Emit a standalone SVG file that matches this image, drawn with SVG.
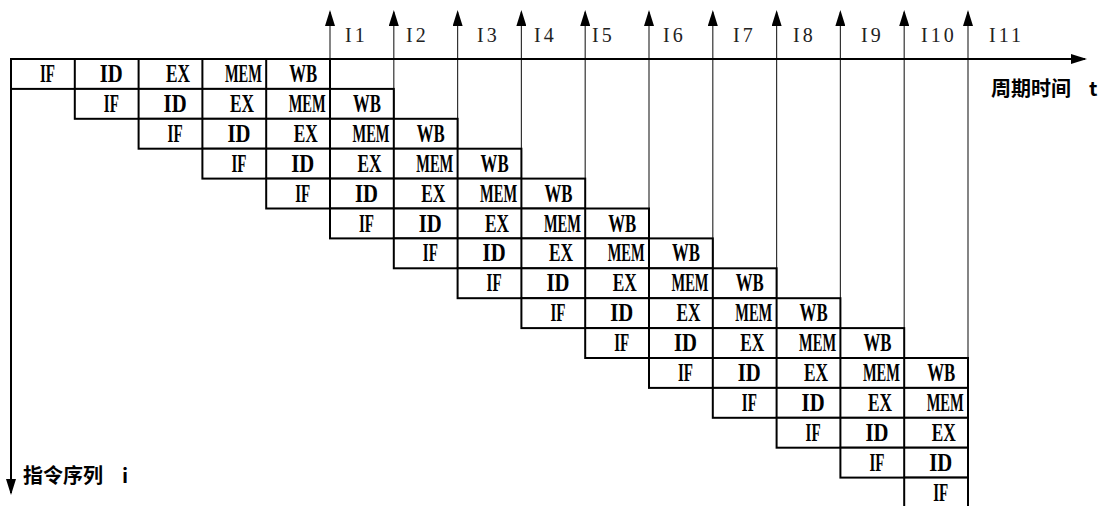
<svg xmlns="http://www.w3.org/2000/svg" width="1110" height="506" viewBox="0 0 1110 506">
<style>
.cell{fill:#fff;stroke:#000;stroke-width:2}
.div{stroke:#000;stroke-width:2;fill:none}
.st{font-family:"Liberation Serif","Times New Roman",serif;font-weight:bold;font-size:26px;fill:#000}
.ax{stroke:#000;stroke-width:2;fill:none}
.tick{stroke:#333;stroke-width:1.2;fill:none}
.lab{font-family:"Liberation Serif","Times New Roman",serif;font-size:20px;letter-spacing:3px;fill:#222}
.cap{font-family:"Noto Sans CJK SC","Noto Sans CJK JP",sans-serif;font-weight:bold;font-size:20px;fill:#000}
</style>
<defs>
<marker id="ah" markerUnits="userSpaceOnUse" markerWidth="16" markerHeight="10" refX="14" refY="5" orient="auto">
<path d="M0,0 L16,5 L0,10 Z" fill="#000"/>
</marker>
</defs>
<rect width="1110" height="506" fill="#fff"/>

<g id="connectors">
<line class="tick" x1="330" y1="88.9" x2="330" y2="12" marker-end="url(#ah)"/>
<line class="tick" x1="393.8" y1="118.8" x2="393.8" y2="12" marker-end="url(#ah)"/>
<line class="tick" x1="457.6" y1="148.7" x2="457.6" y2="12" marker-end="url(#ah)"/>
<line class="tick" x1="521.4" y1="178.6" x2="521.4" y2="12" marker-end="url(#ah)"/>
<line class="tick" x1="585.2" y1="208.5" x2="585.2" y2="12" marker-end="url(#ah)"/>
<line class="tick" x1="649" y1="238.4" x2="649" y2="12" marker-end="url(#ah)"/>
<line class="tick" x1="712.8" y1="268.3" x2="712.8" y2="12" marker-end="url(#ah)"/>
<line class="tick" x1="776.6" y1="298.2" x2="776.6" y2="12" marker-end="url(#ah)"/>
<line class="tick" x1="840.4" y1="328.1" x2="840.4" y2="12" marker-end="url(#ah)"/>
<line class="tick" x1="904.2" y1="358" x2="904.2" y2="12" marker-end="url(#ah)"/>
<line class="tick" x1="968" y1="387.9" x2="968" y2="12" marker-end="url(#ah)"/>
<line class="ax" x1="11" y1="59" x2="1085" y2="59" marker-end="url(#ah)"/>
<line class="ax" x1="11" y1="59" x2="11" y2="493" marker-end="url(#ah)"/>
</g>

<g id="labels">
<text class="lab" x="345" y="42">I1</text>
<text class="lab" x="406" y="42">I2</text>
<text class="lab" x="477" y="42">I3</text>
<text class="lab" x="534" y="42">I4</text>
<text class="lab" x="592" y="42">I5</text>
<text class="lab" x="663" y="42">I6</text>
<text class="lab" x="733" y="42">I7</text>
<text class="lab" x="793" y="42">I8</text>
<text class="lab" x="861" y="42">I9</text>
<text class="lab" x="921" y="42">I10</text>
<text class="lab" x="989" y="42">I11</text>
<text class="cap" x="991" y="96">周期时间 <tspan x="1089">t</tspan></text>
<text class="cap" x="23" y="483">指令序列 <tspan x="122">i</tspan></text>
</g>

<g id="row0" transform="translate(11,59)">
<rect class="cell" width="319" height="29.9"/>
<path class="div" d="M63.8,0V29.9M127.6,0V29.9M191.4,0V29.9M255.2,0V29.9"/>
<text class="st" x="29" y="23" textLength="15" lengthAdjust="spacingAndGlyphs">IF</text>
<text class="st" x="88.8" y="23" textLength="23" lengthAdjust="spacingAndGlyphs">ID</text>
<text class="st" x="155.1" y="23" textLength="24" lengthAdjust="spacingAndGlyphs">EX</text>
<text class="st" x="213.9" y="23" textLength="37" lengthAdjust="spacingAndGlyphs">MEM</text>
<text class="st" x="278.2" y="23" textLength="28" lengthAdjust="spacingAndGlyphs">WB</text>
</g>
<g id="row1" transform="translate(74.8,88.9)">
<rect class="cell" width="319" height="29.9"/>
<path class="div" d="M63.8,0V29.9M127.6,0V29.9M191.4,0V29.9M255.2,0V29.9"/>
<text class="st" x="29" y="23" textLength="15" lengthAdjust="spacingAndGlyphs">IF</text>
<text class="st" x="88.8" y="23" textLength="23" lengthAdjust="spacingAndGlyphs">ID</text>
<text class="st" x="155.1" y="23" textLength="24" lengthAdjust="spacingAndGlyphs">EX</text>
<text class="st" x="213.9" y="23" textLength="37" lengthAdjust="spacingAndGlyphs">MEM</text>
<text class="st" x="278.2" y="23" textLength="28" lengthAdjust="spacingAndGlyphs">WB</text>
</g>
<g id="row2" transform="translate(138.6,118.8)">
<rect class="cell" width="319" height="29.9"/>
<path class="div" d="M63.8,0V29.9M127.6,0V29.9M191.4,0V29.9M255.2,0V29.9"/>
<text class="st" x="29" y="23" textLength="15" lengthAdjust="spacingAndGlyphs">IF</text>
<text class="st" x="88.8" y="23" textLength="23" lengthAdjust="spacingAndGlyphs">ID</text>
<text class="st" x="155.1" y="23" textLength="24" lengthAdjust="spacingAndGlyphs">EX</text>
<text class="st" x="213.9" y="23" textLength="37" lengthAdjust="spacingAndGlyphs">MEM</text>
<text class="st" x="278.2" y="23" textLength="28" lengthAdjust="spacingAndGlyphs">WB</text>
</g>
<g id="row3" transform="translate(202.4,148.7)">
<rect class="cell" width="319" height="29.9"/>
<path class="div" d="M63.8,0V29.9M127.6,0V29.9M191.4,0V29.9M255.2,0V29.9"/>
<text class="st" x="29" y="23" textLength="15" lengthAdjust="spacingAndGlyphs">IF</text>
<text class="st" x="88.8" y="23" textLength="23" lengthAdjust="spacingAndGlyphs">ID</text>
<text class="st" x="155.1" y="23" textLength="24" lengthAdjust="spacingAndGlyphs">EX</text>
<text class="st" x="213.9" y="23" textLength="37" lengthAdjust="spacingAndGlyphs">MEM</text>
<text class="st" x="278.2" y="23" textLength="28" lengthAdjust="spacingAndGlyphs">WB</text>
</g>
<g id="row4" transform="translate(266.2,178.6)">
<rect class="cell" width="319" height="29.9"/>
<path class="div" d="M63.8,0V29.9M127.6,0V29.9M191.4,0V29.9M255.2,0V29.9"/>
<text class="st" x="29" y="23" textLength="15" lengthAdjust="spacingAndGlyphs">IF</text>
<text class="st" x="88.8" y="23" textLength="23" lengthAdjust="spacingAndGlyphs">ID</text>
<text class="st" x="155.1" y="23" textLength="24" lengthAdjust="spacingAndGlyphs">EX</text>
<text class="st" x="213.9" y="23" textLength="37" lengthAdjust="spacingAndGlyphs">MEM</text>
<text class="st" x="278.2" y="23" textLength="28" lengthAdjust="spacingAndGlyphs">WB</text>
</g>
<g id="row5" transform="translate(330,208.5)">
<rect class="cell" width="319" height="29.9"/>
<path class="div" d="M63.8,0V29.9M127.6,0V29.9M191.4,0V29.9M255.2,0V29.9"/>
<text class="st" x="29" y="23" textLength="15" lengthAdjust="spacingAndGlyphs">IF</text>
<text class="st" x="88.8" y="23" textLength="23" lengthAdjust="spacingAndGlyphs">ID</text>
<text class="st" x="155.1" y="23" textLength="24" lengthAdjust="spacingAndGlyphs">EX</text>
<text class="st" x="213.9" y="23" textLength="37" lengthAdjust="spacingAndGlyphs">MEM</text>
<text class="st" x="278.2" y="23" textLength="28" lengthAdjust="spacingAndGlyphs">WB</text>
</g>
<g id="row6" transform="translate(393.8,238.4)">
<rect class="cell" width="319" height="29.9"/>
<path class="div" d="M63.8,0V29.9M127.6,0V29.9M191.4,0V29.9M255.2,0V29.9"/>
<text class="st" x="29" y="23" textLength="15" lengthAdjust="spacingAndGlyphs">IF</text>
<text class="st" x="88.8" y="23" textLength="23" lengthAdjust="spacingAndGlyphs">ID</text>
<text class="st" x="155.1" y="23" textLength="24" lengthAdjust="spacingAndGlyphs">EX</text>
<text class="st" x="213.9" y="23" textLength="37" lengthAdjust="spacingAndGlyphs">MEM</text>
<text class="st" x="278.2" y="23" textLength="28" lengthAdjust="spacingAndGlyphs">WB</text>
</g>
<g id="row7" transform="translate(457.6,268.3)">
<rect class="cell" width="319" height="29.9"/>
<path class="div" d="M63.8,0V29.9M127.6,0V29.9M191.4,0V29.9M255.2,0V29.9"/>
<text class="st" x="29" y="23" textLength="15" lengthAdjust="spacingAndGlyphs">IF</text>
<text class="st" x="88.8" y="23" textLength="23" lengthAdjust="spacingAndGlyphs">ID</text>
<text class="st" x="155.1" y="23" textLength="24" lengthAdjust="spacingAndGlyphs">EX</text>
<text class="st" x="213.9" y="23" textLength="37" lengthAdjust="spacingAndGlyphs">MEM</text>
<text class="st" x="278.2" y="23" textLength="28" lengthAdjust="spacingAndGlyphs">WB</text>
</g>
<g id="row8" transform="translate(521.4,298.2)">
<rect class="cell" width="319" height="29.9"/>
<path class="div" d="M63.8,0V29.9M127.6,0V29.9M191.4,0V29.9M255.2,0V29.9"/>
<text class="st" x="29" y="23" textLength="15" lengthAdjust="spacingAndGlyphs">IF</text>
<text class="st" x="88.8" y="23" textLength="23" lengthAdjust="spacingAndGlyphs">ID</text>
<text class="st" x="155.1" y="23" textLength="24" lengthAdjust="spacingAndGlyphs">EX</text>
<text class="st" x="213.9" y="23" textLength="37" lengthAdjust="spacingAndGlyphs">MEM</text>
<text class="st" x="278.2" y="23" textLength="28" lengthAdjust="spacingAndGlyphs">WB</text>
</g>
<g id="row9" transform="translate(585.2,328.1)">
<rect class="cell" width="319" height="29.9"/>
<path class="div" d="M63.8,0V29.9M127.6,0V29.9M191.4,0V29.9M255.2,0V29.9"/>
<text class="st" x="29" y="23" textLength="15" lengthAdjust="spacingAndGlyphs">IF</text>
<text class="st" x="88.8" y="23" textLength="23" lengthAdjust="spacingAndGlyphs">ID</text>
<text class="st" x="155.1" y="23" textLength="24" lengthAdjust="spacingAndGlyphs">EX</text>
<text class="st" x="213.9" y="23" textLength="37" lengthAdjust="spacingAndGlyphs">MEM</text>
<text class="st" x="278.2" y="23" textLength="28" lengthAdjust="spacingAndGlyphs">WB</text>
</g>
<g id="row10" transform="translate(649,358)">
<rect class="cell" width="319" height="29.9"/>
<path class="div" d="M63.8,0V29.9M127.6,0V29.9M191.4,0V29.9M255.2,0V29.9"/>
<text class="st" x="29" y="23" textLength="15" lengthAdjust="spacingAndGlyphs">IF</text>
<text class="st" x="88.8" y="23" textLength="23" lengthAdjust="spacingAndGlyphs">ID</text>
<text class="st" x="155.1" y="23" textLength="24" lengthAdjust="spacingAndGlyphs">EX</text>
<text class="st" x="213.9" y="23" textLength="37" lengthAdjust="spacingAndGlyphs">MEM</text>
<text class="st" x="278.2" y="23" textLength="28" lengthAdjust="spacingAndGlyphs">WB</text>
</g>
<g id="row11" transform="translate(712.8,387.9)">
<rect class="cell" width="255.2" height="29.9"/>
<path class="div" d="M63.8,0V29.9M127.6,0V29.9M191.4,0V29.9"/>
<text class="st" x="29" y="23" textLength="15" lengthAdjust="spacingAndGlyphs">IF</text>
<text class="st" x="88.8" y="23" textLength="23" lengthAdjust="spacingAndGlyphs">ID</text>
<text class="st" x="155.1" y="23" textLength="24" lengthAdjust="spacingAndGlyphs">EX</text>
<text class="st" x="213.9" y="23" textLength="37" lengthAdjust="spacingAndGlyphs">MEM</text>
</g>
<g id="row12" transform="translate(776.6,417.8)">
<rect class="cell" width="191.4" height="29.9"/>
<path class="div" d="M63.8,0V29.9M127.6,0V29.9"/>
<text class="st" x="29" y="23" textLength="15" lengthAdjust="spacingAndGlyphs">IF</text>
<text class="st" x="88.8" y="23" textLength="23" lengthAdjust="spacingAndGlyphs">ID</text>
<text class="st" x="155.1" y="23" textLength="24" lengthAdjust="spacingAndGlyphs">EX</text>
</g>
<g id="row13" transform="translate(840.4,447.7)">
<rect class="cell" width="127.6" height="29.9"/>
<path class="div" d="M63.8,0V29.9"/>
<text class="st" x="29" y="23" textLength="15" lengthAdjust="spacingAndGlyphs">IF</text>
<text class="st" x="88.8" y="23" textLength="23" lengthAdjust="spacingAndGlyphs">ID</text>
</g>
<g id="row14" transform="translate(904.2,477.6)">
<rect class="cell" width="63.8" height="29.9"/>
<text class="st" x="29" y="23" textLength="15" lengthAdjust="spacingAndGlyphs">IF</text>
</g>
</svg>
